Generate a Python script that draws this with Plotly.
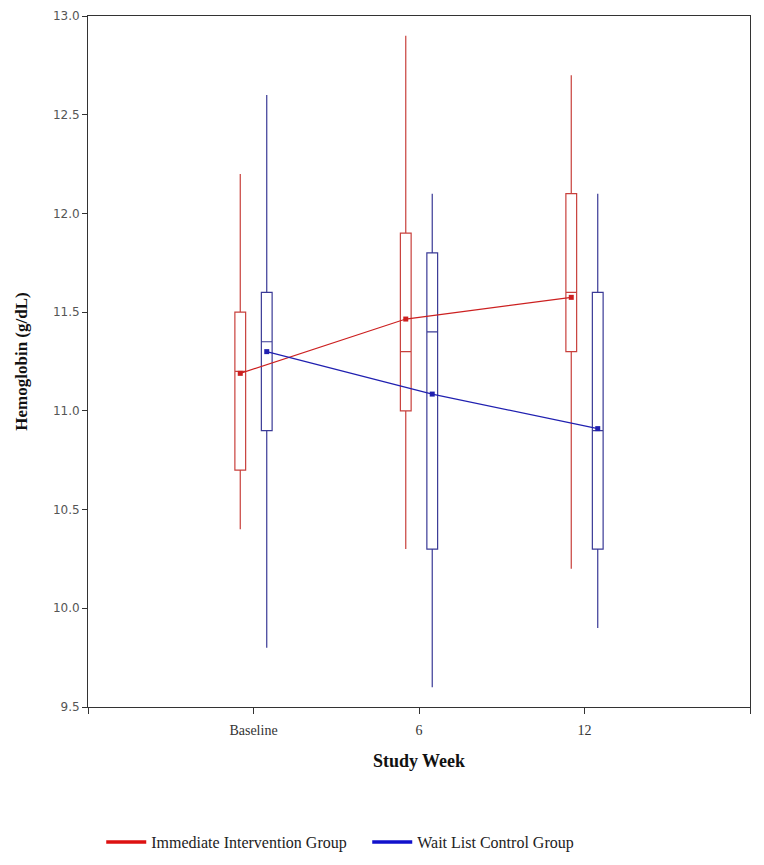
import plotly.graph_objects as go

weeks = ["Baseline", "6", "12"]
pos = [0, 1, 2]

# Immediate Intervention Group
ii_low = [10.4, 10.3, 10.2]
ii_q1 = [10.7, 11.0, 11.3]
ii_med = [11.2, 11.3, 11.6]
ii_q3 = [11.5, 11.9, 12.1]
ii_high = [12.2, 12.9, 12.7]
ii_mean = [11.19, 11.465, 11.575]

# Wait List Control Group
wl_low = [9.8, 9.6, 9.9]
wl_q1 = [10.9, 10.3, 10.3]
wl_med = [11.35, 11.4, 10.9]
wl_q3 = [11.6, 11.8, 11.6]
wl_high = [12.6, 12.1, 12.1]
wl_mean = [11.30, 11.085, 10.91]

off = 0.08
red_box = "#c8403c"
blue_box = "#3a3a96"
red_line = "#cc2020"
blue_line = "#2020b0"

fig = go.Figure()

def add_group(name, sign, low, q1, med, q3, high, mean, boxc, linec, legc):
    xs = [p + sign * off for p in pos]
    fig.add_trace(go.Box(
        x=xs, q1=q1, median=med, q3=q3, lowerfence=low, upperfence=high,
        width=0.065, whiskerwidth=0, fillcolor="rgba(0,0,0,0)",
        line=dict(color=boxc, width=1.2), showlegend=False, hoverinfo="skip",
    ))
    fig.add_trace(go.Scatter(
        x=xs, y=mean, mode="lines+markers",
        line=dict(color=linec, width=1.2),
        marker=dict(color=linec, size=5, symbol="square"),
        showlegend=False,
    ))
    fig.add_trace(go.Scatter(
        x=[None], y=[None], mode="lines", name=name,
        line=dict(color=legc, width=3.5),
    ))

add_group("Immediate Intervention Group", -1, ii_low, ii_q1, ii_med, ii_q3, ii_high, ii_mean,
          red_box, red_line, "#dd1111")
add_group("Wait List Control Group", 1, wl_low, wl_q1, wl_med, wl_q3, wl_high, wl_mean,
          blue_box, blue_line, "#1111cc")

fig.update_layout(
    width=764, height=865,
    margin=dict(l=88, r=14, t=16, b=158, autoexpand=False),
    plot_bgcolor="white", paper_bgcolor="white",
    showlegend=True,
    legend=dict(orientation="h", x=0.02, xanchor="left", y=-0.171, yanchor="top",
                font=dict(family="Liberation Serif", size=16, color="#222"),
                itemwidth=40, entrywidth=211),
    xaxis=dict(
        automargin=False,
        range=[-1, 3], tickvals=[-1, 0, 1, 2, 3], ticktext=["", weeks[0], weeks[1], weeks[2], ""],
        showline=True, linecolor="#333", linewidth=1, mirror=True,
        ticks="outside", ticklen=6, tickcolor="#333", showgrid=False, zeroline=False,
        ticklabelstandoff=4,
        tickfont=dict(family="Liberation Serif", size=14, color="#333"),
        title=dict(text="<b>Study Week</b>", font=dict(family="Liberation Serif", size=18, color="#111"),
                   standoff=17),
    ),
    yaxis=dict(
        automargin=False,
        range=[9.5, 13.0], tickvals=[9.5, 10.0, 10.5, 11.0, 11.5, 12.0, 12.5, 13.0],
        ticktext=["9.5", "10.0", "10.5", "11.0", "11.5", "12.0", "12.5", "13.0"],
        showline=True, linecolor="#333", linewidth=1, mirror=True,
        ticks="outside", ticklen=5, tickcolor="#333", showgrid=False, zeroline=False,
        tickfont=dict(family="DejaVu Sans", size=12, color="#555"),
        title=dict(text="<b>Hemoglobin (g/dL)</b>", font=dict(family="Liberation Serif", size=17, color="#111"),
                   standoff=20),
    ),
)

fig.write_html("out.html", config={"displayModeBar": False},
               post_script="document.body.style.margin='0';")
